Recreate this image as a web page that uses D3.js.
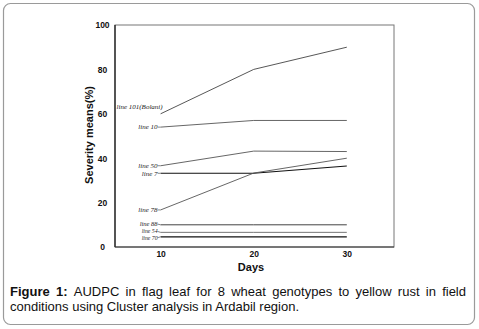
<!DOCTYPE html>
<html><head><meta charset="utf-8">
<script src="https://cdn.jsdelivr.net/npm/d3@7"></script>
<style>body{margin:0;background:#fff}svg{display:block}</style>
</head><body>
<svg id="c" width="479" height="329"></svg>
<script>
const days = [10, 20, 30];
const lineNames = ["line 101(Bolani)", "line 10", "line 50", "line 7", "line 78", "line 88", "line 54", "line 70"];
const line101 = [60, 80, 90];
const line10 = [54, 57, 57];
const line50 = [36.6, 43.2, 43];
const line7 = [33.2, 33.2, 36.5];
const line78 = [16.7, 33.3, 40];
const line88 = [10, 10, 10];
const line54 = [6.6, 6.6, 6.6];
const line70 = [4.6, 4.6, 4.6];
const xTicks = [10, 20, 30];
const yTicks = [0, 20, 40, 60, 80, 100];
const caption1 = "AUDPC in flag leaf for 8 wheat genotypes to yellow rust in field";
const caption2 = "conditions using Cluster analysis in Ardabil region.";

const seriesVals = [line101, line10, line50, line7, line78, line88, line54, line70];
const series = lineNames.map((n, i) => ({name: n, vals: seriesVals[i]}));

const svg = d3.select("#c");
// outer frame
svg.append("rect").attr("x", 3.5).attr("y", 3.5).attr("width", 471).attr("height", 321)
  .attr("rx", 7).attr("fill", "#fff").attr("stroke", "#9a9a9a").attr("stroke-width", 1.2);

const x = d3.scaleLinear().domain([5.1, 35.07]).range([115, 394]);
const y = d3.scaleLinear().domain([0, 100]).range([247, 25]);

// plot box
svg.append("rect").attr("x", 115).attr("y", 25).attr("width", 279).attr("height", 222)
  .attr("fill", "none").attr("stroke", "#777").attr("stroke-width", 1);
svg.append("line").attr("x1", 115).attr("x2", 115).attr("y1", 25).attr("y2", 247)
  .attr("stroke", "#111").attr("stroke-width", 1.2);
svg.append("line").attr("x1", 115).attr("x2", 394).attr("y1", 247).attr("y2", 247)
  .attr("stroke", "#333").attr("stroke-width", 1);

// axes (labels only)
const yAxis = d3.axisLeft(y).tickValues(yTicks).tickSize(0).tickPadding(0);
const yg = svg.append("g").attr("transform", "translate(102.5,0)").call(yAxis);
yg.select(".domain").remove();
yg.selectAll("text").attr("text-anchor", "middle").attr("dy", "0.35em")
  .style("font-family", "Arial, 'Liberation Sans', sans-serif").style("font-size", "8.5px").style("font-weight", "bold").attr("fill", "#111");

const xAxis = d3.axisBottom(x).tickValues(xTicks).tickSize(0).tickPadding(0);
const xg = svg.append("g").attr("transform", "translate(0,251)").call(xAxis);
xg.select(".domain").remove();
xg.selectAll("text").attr("dy", "0.71em")
  .style("font-family", "Arial, 'Liberation Sans', sans-serif").style("font-size", "8.5px").style("font-weight", "bold").attr("fill", "#111");

// axis titles
svg.append("text").attr("transform", "translate(93,135) rotate(-90)").attr("text-anchor", "middle")
  .style("font-family", "Arial, 'Liberation Sans', sans-serif").style("font-size", "11px").style("font-weight", "bold")
  .attr("fill", "#111").text("Severity means(%)");
svg.append("text").attr("x", 251).attr("y", 271).attr("text-anchor", "middle")
  .style("font-family", "Arial, 'Liberation Sans', sans-serif").style("font-size", "11px").style("font-weight", "bold")
  .attr("fill", "#111").text("Days");

// lines
const lineGen = d3.line().x((d, i) => x(days[i])).y(d => y(d));
const strokes = ["#444", "#555", "#555", "#111", "#555", "#444", "#666", "#111"];
const widths = [0.9, 0.9, 0.9, 1.1, 0.9, 1, 0.9, 1.2];
series.forEach((s, i) => {
  svg.append("path").datum(s.vals).attr("d", lineGen).attr("fill", "none")
    .attr("stroke", strokes[i]).attr("stroke-width", widths[i]);
});

// labels with leader lines
const labelDy = [-7, 0, 0, 0, 0, -0.7, -0.9, 0.9];
const labelDx = [2, -3, -3, -3, -3, -3, -3, -3];
const labelSize = [7, 7, 7, 7, 7, 6.5, 5.8, 5.8];
series.forEach((s, i) => {
  const ly = y(s.vals[0]) + labelDy[i];
  svg.append("text").attr("x", x(days[0]) + labelDx[i]).attr("y", ly).attr("dy", "0.32em")
    .attr("text-anchor", "end")
    .style("font-family", "'Liberation Serif', 'DejaVu Serif', serif").style("font-style", "italic")
    .style("font-size", labelSize[i] + "px").attr("fill", "#222").text(s.name);
  if (i !== 0) {
    svg.append("line").attr("x1", x(days[0]) - 3).attr("x2", x(days[0])).attr("y1", ly).attr("y2", y(s.vals[0]))
      .attr("stroke", "#555").attr("stroke-width", 0.7);
  }
});

// caption (justified first line)
const capFont = "Arial, 'Liberation Sans', sans-serif";
const c1 = svg.append("text").attr("x", 10).attr("y", 296)
  .style("font-family", capFont).style("font-size", "13px").attr("fill", "#111");
c1.append("tspan").style("font-weight", "bold").text("Figure 1: ");
c1.append("tspan").text(caption1);
const target = 456;
const w = c1.node().getComputedTextLength();
const gaps = (("Figure 1: " + caption1).match(/ /g) || []).length;
c1.style("word-spacing", ((target - w) / gaps) + "px");
svg.append("text").attr("x", 10).attr("y", 311)
  .style("font-family", capFont).style("font-size", "13px").attr("fill", "#111").text(caption2);
</script>
</body></html>
